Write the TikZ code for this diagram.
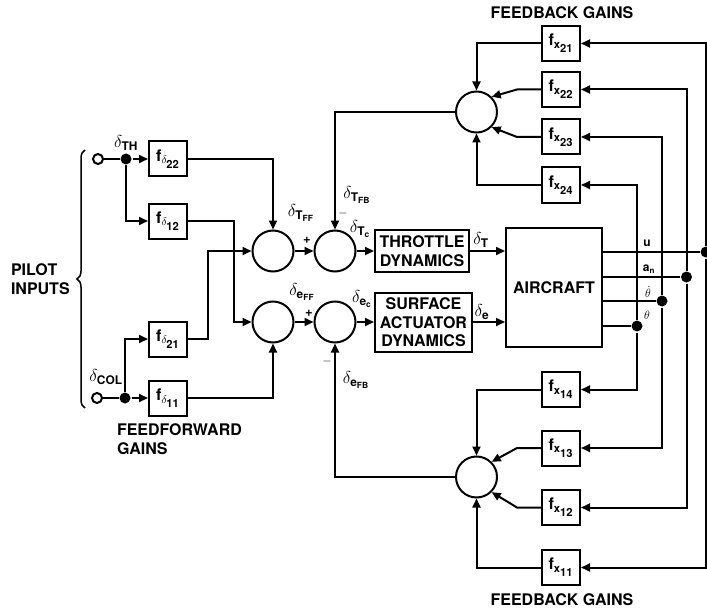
\documentclass[tikz,border=0pt]{standalone}
\usepackage{fontspec}
\setmainfont{TeX Gyre Heros}
\usetikzlibrary{arrows.meta,decorations.pathreplacing}
\tikzset{pilot/.style={x=1pt,y=-1pt,line width=2pt,font=\bfseries\fontsize{16}{18.5}\selectfont}}
\tikzset{gainbox/.style={draw,minimum width=38pt,minimum height=35pt,inner sep=0pt},
         sumc/.style={draw,circle,minimum size=41pt,inner sep=0pt},
         dynbox/.style={draw,align=center,inner sep=1pt},
         jdot/.style={circle,fill,minimum size=11pt,inner sep=0pt},
         port/.style={circle,draw,fill=white,minimum size=10pt,inner sep=0pt},
         sig/.style={-{Triangle[length=9pt,width=8pt]}},
         lbl/.style={inner sep=0pt,font=\bfseries\fontsize{17}{19}\selectfont}}
\newcommand{\fgain}[2]{$\mathbf{f}_{#1_{\scriptstyle\mathbf{#2}}}$}

\begin{document}
\begin{tikzpicture}[pilot]
    \useasboundingbox (0,0) rectangle (707,615);
    % pilot inputs and feedforward gains
    \node[port] (thin) at (98,159) {};
    \node[jdot] (thj)  at (126,159) {};
    \node[port] (colin) at (97,398) {};
    \node[jdot] (colj)  at (125,398) {};
    \foreach \i/\y in {22/159,12/221,21/339,11/398}
      \node[gainbox] (fd\i) at (168,\y) {\fgain{\delta}{\i}};
    \coordinate (k12) at (234,221);
    \coordinate (k21) at (208,339);
    \node[sumc] (sT1) at (273,251) {};
    \node[sumc] (sT2) at (335,251) {};
    \node[sumc] (sE1) at (273,322) {};
    \node[sumc] (sE2) at (335,322) {};
    \draw (thin) -- (thj);
    \draw (colin) -- (colj);
    \draw[sig] (thj) -- (fd22);
    \draw[sig] (thj) |- (fd12);
    \draw[sig] (colj) -- (fd11);
    \draw[sig] (colj) |- (fd21);
    \draw[sig] (fd22) -| (sT1);
    \draw[sig] (fd11) -| (sE1);
    \draw[sig] (fd12) -- (k12) |- (sE1);
    \draw[sig] (fd21) -- (k21) |- (sT1);
    \draw[sig] (sT1) -- (sT2);
    \draw[sig] (sE1) -- (sE2);
    % actuators and aircraft
    \node[dynbox,minimum width=94pt,minimum height=42pt] (thr) at (422,251) {THROTTLE\\DYNAMICS};
    \node[dynbox,minimum width=97pt,minimum height=59pt] (srf) at (423.5,322.5) {SURFACE\\ACTUATOR\\DYNAMICS};
    \node[draw,minimum width=96pt,minimum height=119pt] (ac) at (554,287.5) {AIRCRAFT};
    \draw[sig] (sT2) -- (thr);
    \draw[sig] (sE2) -- (sE2 -| srf.west);
    \draw[sig] (thr.east) -- (thr.east -| ac.west);
    \draw[sig] (srf.east |- sE2) -- (sE2 -| ac.west);
    % feedback gains
    \foreach \i/\y in {21/43.5,22/89.5,23/137,24/185,14/389.5,13/448,12/507.5,11/567.5}
      \node[gainbox] (fx\i) at (561,\y) {\fgain{\mathbf{x}}{\i}};
    \node[sumc] (sfT) at (476.5,112) {};
    \node[sumc] (sfE) at (476.5,477) {};
    \foreach \s/\x/\y/\a/\b in {ju/706/252/21/11,ja/686.5/277/22/12,jq/662/301/23/13,jt/637/326/24/14} {
      \node[jdot] (\s) at (\x,\y) {};
      \draw (ac.east |- \s) -- (\s);
      \draw[sig] (\s) |- (fx\a);
      \draw[sig] (\s) |- (fx\b);
    }
    \draw[sig] (fx21) -| (sfT);
    \draw[sig] (fx24) -| (sfT);
    \draw[sig] (fx22.west) -- ++(-24,0) -- (sfT.45);
    \draw[sig] (fx23.west) -- ++(-24,0) -- (sfT.-45);
    \draw[sig] (fx14) -| (sfE);
    \draw[sig] (fx11) -| (sfE);
    \draw[sig] (fx13.west) -- ++(-24,0) -- (sfE.45);
    \draw[sig] (fx12.west) -- ++(-24,0) -- (sfE.-45);
    \draw[sig] (sfT) -| (sT2);
    \draw[sig] (sfE) -| (sE2);
    % texts
    \draw[line width=1.5pt,decorate,decoration={brace,amplitude=8pt}] (85,408) -- (85,150);
    \node[inner sep=0pt,align=left,anchor=west] (pilot) at (10,279) {PILOT\\INPUTS};
    \node[inner sep=0pt,align=left,anchor=north west] (ffg) at (116,423) {FEEDFORWARD\\GAINS};
    \node[inner sep=0pt] (fbt) at (562,13) {FEEDBACK GAINS};
    \node[inner sep=0pt] (fbb) at (562,600) {FEEDBACK GAINS};
    \node[lbl] (dth) at (126,143) {$\delta_{\mathbf{TH}}$};
    \node[lbl] (dcol) at (106,377) {$\delta_{\mathbf{COL}}$};
    \node[lbl] (dtff) at (301,213) {$\delta_{\mathbf{T}_{\mathbf{FF}}}$};
    \node[lbl] (dtfb) at (357,195) {$\delta_{\mathbf{T}_{\mathbf{FB}}}$};
    \node[lbl] (dtc)  at (360,229) {$\delta_{\mathbf{T}_{\mathbf{c}}}$};
    \node[lbl] (deff) at (302,292) {$\delta_{\mathbf{e}_{\mathbf{FF}}}$};
    \node[lbl] (dec)  at (362,299) {$\delta_{\mathbf{e}_{\mathbf{c}}}$};
    \node[lbl] (defb) at (356,380) {$\delta_{\mathbf{e}_{\mathbf{FB}}}$};
    \node[lbl,font=\bfseries\fontsize{13}{15}\selectfont] (pt) at (307,240) {+};
    \node[lbl,font=\bfseries\fontsize{13}{15}\selectfont] (pe) at (309,313) {+};
    \node[lbl,font=\bfseries\fontsize{13}{15}\selectfont] (mt) at (343,213) {$-$};
    \node[lbl,font=\bfseries\fontsize{13}{15}\selectfont] (me) at (327,361) {$-$};
    \node[lbl] (dT) at (481,240) {$\delta_{\mathbf{T}}$};
    \node[lbl] (de) at (482,312) {$\delta_{\mathbf{e}}$};
    \node[lbl,font=\bfseries\fontsize{12}{14}\selectfont] (lu) at (647,243) {u};
    \node[lbl,font=\bfseries\fontsize{12}{14}\selectfont,anchor=south] (lan) at (649,274) {a$_{\mathbf{n}}$};
    \node[lbl,font=\fontsize{13}{15}\selectfont,anchor=south] (lqd) at (648,298.5) {$\dot\theta$};
    \node[lbl,font=\fontsize{13}{15}\selectfont] (lq) at (647,315) {$\theta$};
\end{tikzpicture}
\end{document}
